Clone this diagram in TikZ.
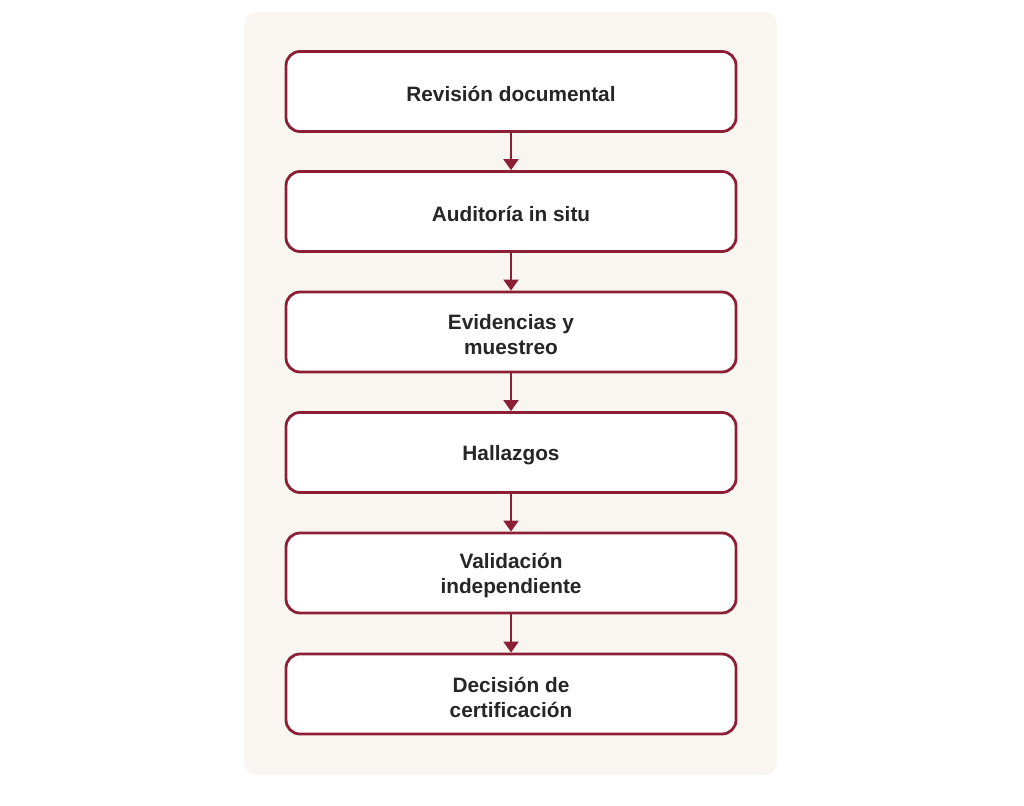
\documentclass[tikz,border=0pt]{standalone}
\usepackage{fontspec}
\setmainfont{Liberation Sans}
\usetikzlibrary{arrows.meta}
\definecolor{panelbg}{HTML}{F9F6F1}
\definecolor{boxred}{HTML}{8B1F35}
\definecolor{txt}{HTML}{262626}
\tikzset{
  stepbox/.style={draw=boxred, line width=2.8pt, fill=white, rounded corners=14pt,
    minimum width=450pt, minimum height=80pt, inner sep=0pt},
  steptext/.style={align=center, text=txt, inner sep=0pt,
    font=\fontsize{20.8pt}{25pt}\selectfont\bfseries},
  flow/.style={draw=boxred, line width=2pt, -{Triangle[length=11pt,width=15pt]}}
}
\begin{document}
\begin{tikzpicture}[x=1pt,y=-1pt]
\useasboundingbox (0,0) rectangle (1024,805);
\fill[panelbg, rounded corners=12pt] (244,12) rectangle (777,775);
\node[stepbox] (a) at (511,91.5) {};
\node[stepbox] (b) at (511,211.5) {};
\node[stepbox] (c) at (511,332) {};
\node[stepbox] (d) at (511,452.5) {};
\node[stepbox] (e) at (511,573) {};
\node[stepbox] (f) at (511,694) {};
\node[steptext] (ta) at ([yshift=-2.5pt]a.center) {Revisión documental};
\node[steptext] (tb) at ([yshift=-2.5pt]b.center) {Auditoría in situ};
\node[steptext] (tc) at ([yshift=-3pt]c.center) {Evidencias y\\muestreo};
\node[steptext] (td) at ([yshift=-2.5pt]d.center) {Hallazgos};
\node[steptext] (te) at ([yshift=-3pt]e.center) {Validación\\independiente};
\node[steptext] (tf) at ([yshift=-3pt]f.center) {Decisión de\\certificación};
\draw[flow] (a) -- (b);
\draw[flow] (b) -- (c);
\draw[flow] (c) -- (d);
\draw[flow] (d) -- (e);
\draw[flow] (e) -- (f);
\end{tikzpicture}
\end{document}
